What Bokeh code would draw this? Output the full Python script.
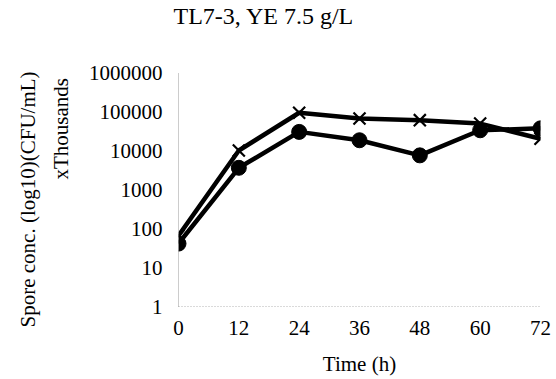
from bokeh.plotting import figure
from bokeh.models import FixedTicker, CustomJSTickFormatter, Range1d, Title
from bokeh.embed import file_html
from bokeh.resources import INLINE

# data
time_h = [0, 12, 24, 36, 48, 60, 72]
series_circle = [41, 3600, 30000, 18300, 7500, 33000, 37000]
series_x = [65, 10000, 93000, 66000, 60000, 49000, 20000]
y_ticks = [1, 10, 100, 1000, 10000, 100000, 1000000]
x_ticks = [0, 12, 24, 36, 48, 60, 72]
title_text = "TL7-3, YE 7.5 g/L"
ylabel_main = "Spore conc. (log10)(CFU/mL)"
ylabel_sub = "xThousands"
xlabel = "Time (h)"

FONT = "Liberation Serif"

p = figure(width=556, height=379, y_axis_type="log",
           x_range=Range1d(0, 72), y_range=Range1d(1, 1000000),
           output_backend="svg", toolbar_location=None)
p.min_border_left = 178
p.min_border_right = 16
p.min_border_top = 72
p.min_border_bottom = 73
p.outline_line_color = None
p.background_fill_color = "white"
p.border_fill_color = "white"
p.xgrid.grid_line_color = None
p.ygrid.grid_line_color = None

p.title.text = title_text
p.title.align = "left"
p.title.offset = -5
p.title.text_font = FONT
p.title.text_font_size = "24px"
p.title.text_font_style = "normal"
p.title.text_color = "black"
p.title.standoff = 0

for ax in (p.xaxis[0], p.yaxis[0]):
    ax.major_tick_line_color = None
    ax.minor_tick_line_color = None
    ax.major_tick_out = 0
    ax.major_tick_in = 0
    ax.minor_tick_out = 0
    ax.minor_tick_in = 0
    ax.axis_line_width = 1
    ax.major_label_text_font = FONT
    ax.major_label_text_font_size = "21px"
    ax.major_label_text_color = "black"
p.yaxis.axis_line_color = "#999999"
p.yaxis.axis_line_dash = "1 1"
p.xaxis.axis_line_color = "#b5b5b5"
p.xaxis.axis_line_dash = "1 2"

p.xaxis.ticker = FixedTicker(ticks=x_ticks)
p.yaxis.ticker = FixedTicker(ticks=y_ticks)
p.yaxis.formatter = CustomJSTickFormatter(code="return tick.toFixed(0);")
p.xaxis.major_label_standoff = 14
p.yaxis.major_label_standoff = 16
p.xaxis.axis_label = xlabel
p.xaxis.axis_label_text_font = FONT
p.xaxis.axis_label_text_font_size = "21px"
p.xaxis.axis_label_text_font_style = "normal"
p.xaxis.axis_label_text_color = "black"
p.xaxis.axis_label_standoff = 14


def spacer(size):
    # a blank panel item used only to reserve room beside the frame
    return Title(text=" ", text_font_size="1px", standoff=size)


# above: spacer between the frame and the figure title
p.add_layout(spacer(41), "above")

# left: tick axis, spacer, sub label, main label
p.add_layout(spacer(6), "left")
p.add_layout(Title(text=ylabel_sub, align="left", offset=127, text_font=FONT,
                   text_font_size="21px", text_font_style="normal",
                   text_color="black", standoff=7), "left")
p.add_layout(Title(text=ylabel_main, align="left", offset=-21, text_font=FONT,
                   text_font_size="21px", text_font_style="normal",
                   text_color="black", standoff=8), "left")

p.line(time_h, series_x, line_color="black", line_width=4.5)
p.line(time_h, series_circle, line_color="black", line_width=4.5)
p.scatter(time_h, series_x, marker="x", size=17, line_color="black", line_width=2.2)
p.scatter(time_h, series_circle, marker="circle", size=15, fill_color="black", line_color="black")

open("out.html", "w").write(file_html(p, INLINE))
